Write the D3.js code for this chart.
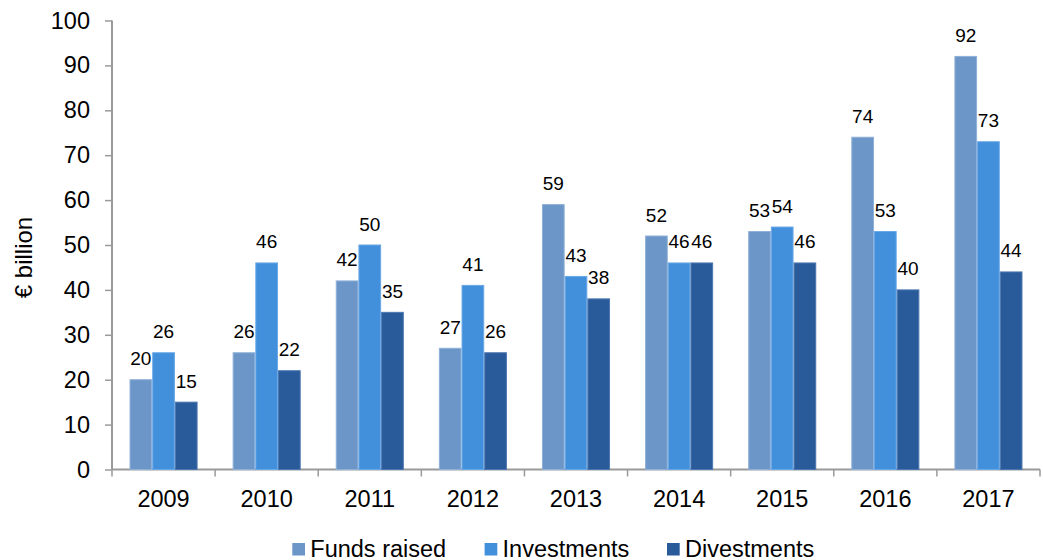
<!DOCTYPE html>
<html><head><meta charset="utf-8">
<script src="https://cdn.jsdelivr.net/npm/d3@7"></script>
<style>
body{margin:0;background:#fff;}
text{font-family:"Liberation Sans",Arial,sans-serif;fill:#000;}
</style></head>
<body><svg id="chart" width="1043" height="560"></svg>
<script>
const years = ["2009","2010","2011","2012","2013","2014","2015","2016","2017"];
const seriesNames = ["Funds raised","Investments","Divestments"];
const fundsRaised = [20,26,42,27,59,52,53,74,92];
const investments = [26,46,50,41,43,46,54,53,73];
const divestments = [15,22,35,26,38,46,46,40,44];
const yTicks = [0,10,20,30,40,50,60,70,80,90,100];
const colors = ["#6d96c8","#4290dc","#295b9b"];
const strokes = ["#8fb0d8","#6aa8e6","#4d77b0"];

const svg = d3.select("#chart");
const series = [fundsRaised, investments, divestments];
const x0 = 112, x1 = 1040, yTop = 20.5, yBot = 469.5;

const x = d3.scaleBand().domain(years).range([x0, x1]).paddingInner(0.34).paddingOuter(0.17);
const xs = d3.scaleBand().domain(seriesNames).range([0, x.bandwidth()]);
const y = d3.scaleLinear().domain([0,100]).range([yBot, yTop]);

// y axis
const yAxis = svg.append("g").attr("transform",`translate(${x0},0)`)
  .call(d3.axisLeft(y).tickValues(yTicks).tickSize(7).tickPadding(15));
yAxis.select(".domain").attr("stroke","#9a9a9a").attr("stroke-width",2).attr("d",`M0,${yTop}V${yBot}`);
yAxis.selectAll(".tick line").attr("stroke","#9a9a9a").attr("stroke-width",1.5);
yAxis.selectAll(".tick text").attr("font-size","23.5px").attr("font-family","Liberation Sans, Arial, sans-serif").attr("fill","#000");

// x axis
const xAxisG = svg.append("g").attr("transform",`translate(0,${yBot})`);
xAxisG.append("line").attr("x1",x0).attr("x2",x1).attr("y1",0).attr("y2",0).attr("stroke","#9a9a9a").attr("stroke-width",2);
const boundaries = years.map(d => x(d) - x.step()*x.paddingOuter()).concat([x1]);
xAxisG.selectAll("line.tk").data(boundaries).enter().append("line").attr("class","tk")
  .attr("x1",d=>d).attr("x2",d=>d).attr("y1",0).attr("y2",7).attr("stroke","#9a9a9a").attr("stroke-width",1.5);
xAxisG.selectAll("text.yr").data(years).enter().append("text").attr("class","yr")
  .attr("x",d=>x(d)+x.bandwidth()/2).attr("y",37).attr("text-anchor","middle").attr("font-size","23.5px").text(d=>d);

// bars
series.forEach((vals, si) => {
  const g = svg.append("g");
  g.selectAll("rect").data(vals).enter().append("rect")
    .attr("x",(d,i)=>x(years[i])+xs(seriesNames[si])+0.5)
    .attr("width",xs.bandwidth()-1)
    .attr("y",d=>y(d))
    .attr("height",d=>yBot-y(d))
    .attr("fill",colors[si]).attr("stroke",strokes[si]).attr("stroke-width",1);
  g.selectAll("text").data(vals).enter().append("text")
    .attr("x",(d,i)=>x(years[i])+xs(seriesNames[si])+xs.bandwidth()/2)
    .attr("y",d=>y(d)-14.5)
    .attr("text-anchor","middle").attr("font-size","19px").text(d=>d);
});

// y title
svg.append("text").attr("transform","translate(32,257.5) rotate(-90)")
  .attr("text-anchor","middle").attr("font-size","24px").text("€ billion");

// legend
const legX = [292.3, 484.6, 667];
seriesNames.forEach((n,i)=>{
  svg.append("rect").attr("x",legX[i]).attr("y",543).attr("width",12.7).attr("height",12.5).attr("fill",colors[i]);
  svg.append("text").attr("x",legX[i]+18).attr("y",556.5).attr("font-size","23.5px").text(n);
});
</script></body></html>
